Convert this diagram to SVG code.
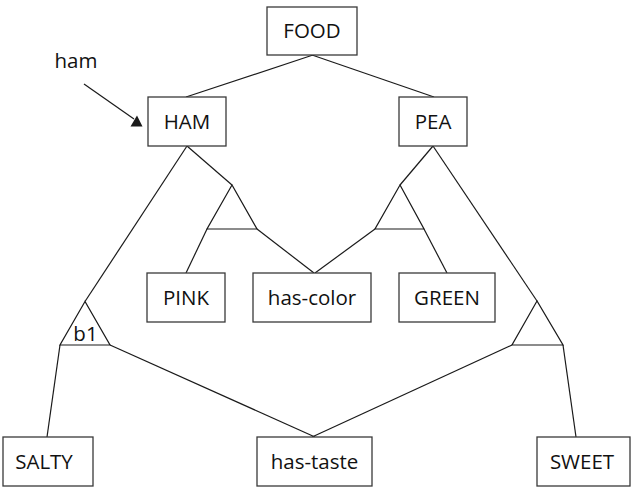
<svg xmlns="http://www.w3.org/2000/svg" width="631" height="490" viewBox="0 0 631 490">
  <style>
    .box rect { fill: #ffffff; stroke: #3a3a3a; stroke-width: 1.3; }
    .box text, .lbl { font-family: "Open Sans", "Liberation Sans", sans-serif; font-size: 20.5px; fill: #111111; text-anchor: middle; }
    .conn line, .conn polyline { stroke: #1a1a1a; stroke-width: 1.2; fill: none; }
    .conn polygon.tri { fill: #ffffff; stroke: #1a1a1a; stroke-width: 1.2; stroke-linejoin: miter; }
    .head { fill: #1a1a1a; stroke: none; }
  </style>
  <rect width="631" height="490" fill="#ffffff"/>

  <!-- links between frames, slot triangles and values -->
  <g id="connectors" class="conn">
    <line x1="313" y1="55" x2="186" y2="97"/>
    <line x1="312" y1="55" x2="434" y2="97"/>
    <line x1="187" y1="146" x2="85" y2="301.5"/>
    <line x1="187" y1="146" x2="232" y2="185"/>
    <line x1="433" y1="146" x2="400" y2="185"/>
    <line x1="433" y1="146" x2="537" y2="301"/>
    <polygon class="tri" points="232,185 207,229 257,229"/>
    <polygon class="tri" points="400,185 375,229 424,229"/>
    <polygon class="tri" points="537,301 512,345 563,345"/>
    <polygon class="tri" points="85,301.5 60,345 110,345"/>
    <line x1="207" y1="229" x2="186" y2="273"/>
    <line x1="257" y1="229" x2="314" y2="273"/>
    <line x1="375" y1="229" x2="315" y2="273"/>
    <line x1="424" y1="229" x2="447" y2="273"/>
    <line x1="512" y1="345" x2="312" y2="437"/>
    <line x1="563" y1="345" x2="576" y2="437"/>
    <line x1="60" y1="345" x2="47" y2="437"/>
    <line x1="110" y1="345" x2="315" y2="437"/>
    <!-- pointer from the "ham" label -->
    <line x1="84" y1="84" x2="134" y2="119"/>
    <polygon class="head" points="130.5,126.5 142.5,126.5 137,115.5"/>
  </g>

  <text class="lbl" x="76" y="68">ham</text>
  <text class="lbl" x="85.5" y="341">b1</text>

  <g id="food" class="box"><rect x="267" y="7" width="90" height="48"/><text x="312" y="38">FOOD</text></g>
  <g id="ham" class="box"><rect x="148" y="97" width="78" height="49"/><text x="187" y="129">HAM</text></g>
  <g id="pea" class="box"><rect x="399" y="97" width="68" height="49"/><text x="433" y="129">PEA</text></g>
  <g id="pink" class="box"><rect x="147" y="273" width="78" height="49"/><text x="186" y="305">PINK</text></g>
  <g id="has-color" class="box"><rect x="253" y="273" width="118" height="49"/><text x="312" y="305">has-color</text></g>
  <g id="green" class="box"><rect x="399" y="273" width="96" height="49"/><text x="447" y="305">GREEN</text></g>
  <g id="salty" class="box"><rect x="3" y="437" width="90" height="49"/><text x="44" y="469">SALTY</text></g>
  <g id="has-taste" class="box"><rect x="257" y="437" width="115" height="49"/><text x="314.5" y="469">has-taste</text></g>
  <g id="sweet" class="box"><rect x="537" y="437" width="93" height="49"/><text x="582" y="469">SWEET</text></g>
</svg>
